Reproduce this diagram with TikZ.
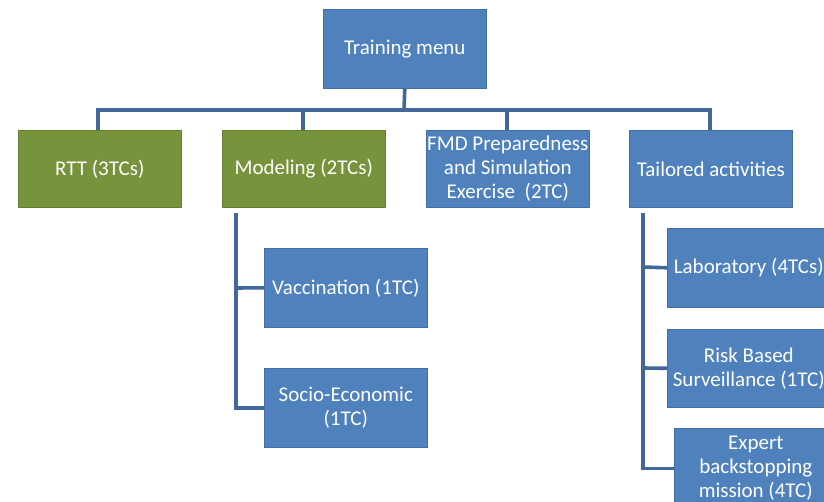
\documentclass[tikz,border=0pt]{standalone}
\usepackage{fontspec}
\setmainfont{Carlito}
\definecolor{boxblue}{HTML}{4F81BD}
\definecolor{boxgreen}{HTML}{77933C}
\definecolor{lineblue}{HTML}{41679B}
\begin{document}
\begin{tikzpicture}[x=1pt,y=-1pt,
  box/.style={fill=#1, draw=#1!85!black, line width=0.6pt, minimum width=163pt, minimum height=78pt,
     text=white, font=\fontsize{21}{24}\selectfont, align=center, inner sep=1pt, anchor=north west},
  conn/.style={draw=lineblue, line width=3.6pt}]
\useasboundingbox (0,0) rectangle (824,502);
\clip (0,0) rectangle (824,502);
\node[box=boxblue, minimum height=79pt] (menu) at (323,9) {Training menu};
\node[box=boxgreen, minimum height=77pt] (rtt) at (18,130) {RTT (3TCs)};
\node[box=boxgreen, minimum height=77pt] (model) at (222,130) {Modeling (2TCs)};
\node[box=boxblue, minimum height=77pt] (fmd) at (426,130) {\makebox[158pt]{FMD Preparedness}\\and Simulation\\Exercise\ \ (2TC)};
\node[box=boxblue, minimum height=77pt] (tail) at (629,130) {Tailored activities};
\node[box=boxblue, minimum height=79pt] (vacc) at (264,248) {Vaccination (1TC)};
\node[box=boxblue, minimum height=79pt] (socio) at (264,368) {Socio-Economic\\(1TC)};
\node[box=boxblue, minimum height=79pt] (lab) at (667,228) {\makebox[158pt]{Laboratory (4TCs)}};
\node[box=boxblue, minimum height=78pt] (risk) at (667,329) {Risk Based\\\makebox[158pt]{Surveillance (1TC)}};
\node[box=boxblue, minimum height=80pt] (exp) at (674,428) {Expert\\backstopping\\mission (4TC)};
\coordinate (bar) at (404,110);
\draw[conn] (menu.south) -- (bar);
\draw[conn] ([xshift=-1.8pt]98,110) -- (710+1.8,110);
\draw[conn] (98,110) -- (98,130);
\draw[conn] (303,110) -- (303,130);
\draw[conn] (507,110) -- (507,130);
\draw[conn] (710,110) -- (710,130);
\draw[conn] (236,213) |- (socio.west);
\draw[conn] (236,288) -- (vacc.west);
\draw[conn] (643,213) |- (exp.west);
\draw[conn] (643,267) -- (lab.west);
\draw[conn] (643,368) -- (risk.west);
\end{tikzpicture}
\end{document}
